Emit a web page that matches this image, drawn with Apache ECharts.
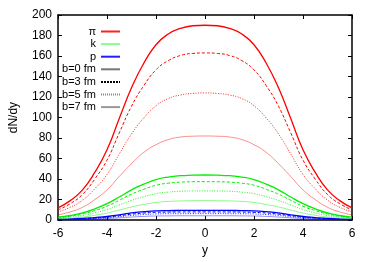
<!DOCTYPE html>
<html>
<head>
<meta charset="utf-8">
<script src="https://cdn.jsdelivr.net/npm/echarts@6/dist/echarts.min.js"></script>
<style>html,body{margin:0;padding:0;background:#fff}#c{width:374px;height:262px}</style>
</head>
<body>
<div id="c"></div>
<script>
const yVals = [-6,-5.5,-5,-4.5,-4,-3.5,-3,-2.5,-2,-1.5,-1,-0.5,0,0.5,1,1.5,2,2.5,3,3.5,4,4.5,5,5.5,6];
const xTicks = [-6,-4,-2,0,2,4,6];
const yTicks = [0,20,40,60,80,100,120,140,160,180,200];

const pi_b0 = [12,19,29.5,46.5,68.5,99,129,153,171,181.5,187,189.5,190,189.5,187,181.5,171,153,129,99,68.5,46.5,29.5,19,12];
const pi_b3 = [10,16,25,40,58.5,85,111,131,146.5,155.5,160.5,162.5,163,162.5,160.5,155.5,146.5,131,111,85,58.5,40,25,16,10];
const pi_b5 = [8,12.5,19.5,30.5,44.5,64.5,84,99.5,111.5,118.5,122,123.5,124,123.5,122,118.5,111.5,99.5,84,64.5,44.5,30.5,19.5,12.5,8];
const pi_b7 = [5,8,12.5,20,29.5,42.5,55,66,73.5,78.5,81,81.8,82,81.8,81,78.5,73.5,66,55,42.5,29.5,20,12.5,8,5];

const k_b0 = [3,4.5,7,11,16,22.5,29.5,35,39.5,42,43.3,43.8,44,43.8,43.3,42,39.5,35,29.5,22.5,16,11,7,4.5,3];
const k_b3 = [2.5,3.8,6,9.3,13.5,19.3,25.3,30,34,36,37,37.4,37.5,37.4,37,36,34,30,25.3,19.3,13.5,9.3,6,3.8,2.5];
const k_b5 = [2,3,4.5,7,10.3,14.7,19.2,22.8,25.8,27.3,28.1,28.4,28.5,28.4,28.1,27.3,25.8,22.8,19.2,14.7,10.3,7,4.5,3,2];
const k_b7 = [1.3,2,3,4.7,6.8,9.8,12.8,15.2,17.2,18.2,18.7,18.9,19,18.9,18.7,18.2,17.2,15.2,12.8,9.8,6.8,4.7,3,2,1.3];

const p_b0 = [0.6,1,1.6,2.5,3.5,5,7,8.2,9,9.3,9.4,9.5,9.5,9.5,9.4,9.3,9,8.2,7,5,3.5,2.5,1.6,1,0.6];
const p_b3 = [0.5,0.8,1.3,2,3,4.2,5.8,6.9,7.6,7.8,7.95,8,8,8,7.95,7.8,7.6,6.9,5.8,4.2,3,2,1.3,0.8,0.5];
const p_b5 = [0.4,0.6,1,1.6,2.3,3.3,4.6,5.4,6,6.2,6.25,6.3,6.3,6.3,6.25,6.2,6,5.4,4.6,3.3,2.3,1.6,1,0.6,0.4];
const p_b7 = [0.3,0.4,0.7,1.1,1.6,2.2,3,3.6,4,4.1,4.2,4.2,4.2,4.2,4.2,4.1,4,3.6,3,2.2,1.6,1.1,0.7,0.4,0.3];

const legendNames = ['π','k','p','b=0 fm','b=3 fm','b=5 fm','b=7 fm'];

const RED = '#ff0000', GREEN = '#00ee00', BLUE = '#0000ff';
const styles = {
  b0: {type:'solid', width:1.3, opacity:1},
  b3: {type:[3,2], width:1, opacity:1},
  b5: {type:[1,1.5], width:1, opacity:0.85},
  b7: {type:'solid', width:1, opacity:0.45}
};
function mk(name, vals, color, st) {
  return {
    name: name, type:'line', symbol:'none', smooth:0.5,
    data: vals.map((v,i)=>[yVals[i], v]),
    lineStyle: {color: color, width: st.width, type: st.type, opacity: st.opacity},
    itemStyle: {color: color},
    silent: true, animation: false
  };
}
const series = [
  mk('pi0', pi_b0, RED, styles.b0), mk('pi3', pi_b3, RED, styles.b3),
  mk('pi5', pi_b5, RED, styles.b5), mk('pi7', pi_b7, RED, styles.b7),
  mk('k0', k_b0, GREEN, styles.b0), mk('k3', k_b3, GREEN, styles.b3),
  mk('k5', k_b5, GREEN, styles.b5), mk('k7', k_b7, GREEN, styles.b7),
  mk('p0', p_b0, BLUE, styles.b0), mk('p3', p_b3, BLUE, styles.b3),
  mk('p5', p_b5, BLUE, styles.b5), mk('p7', p_b7, BLUE, styles.b7)
];
const legendStyles = [
  {color:'#ff2020', width:1, type:'solid'},
  {color:'#88ff88', width:2.5, type:'solid'},
  {color:'#2020ff', width:1, type:'solid'},
  {color:'#777777', width:2, type:'solid'},
  {color:'#000000', width:1, type:[2,1]},
  {color:'#888888', width:1, type:[1,1]},
  {color:'#999999', width:1, type:'solid'}
];
legendNames.forEach((n,i)=>{
  series.push({name:n, type:'line', symbol:'none', data:[],
    lineStyle: legendStyles[i], itemStyle:{color:legendStyles[i].color}});
});

const chart = echarts.init(document.getElementById('c'), null, {renderer:'canvas'});
const axisFont = {fontFamily:'Liberation Sans, Arial, sans-serif', fontSize:12, color:'#000'};
chart.setOption({
  animation:false,
  backgroundColor:'#fff',
  grid:{left:53, right:22, top:15, bottom:40},
  legend:{
    data: legendNames, orient:'vertical', align:'right',
    right:248, top:21, itemWidth:19, itemHeight:10, itemGap:1.6,
    itemStyle:{opacity:0},
    textStyle:{fontFamily:'Liberation Sans, Arial, sans-serif', fontSize:11, color:'#000'},
    selectedMode:false
  },
  xAxis:[
    {type:'value', min:-6, max:6, interval:2, position:'bottom',
     name:'y', nameLocation:'middle', nameGap:12, nameTextStyle:axisFont,
     axisLine:{onZero:false, lineStyle:{color:'#000', width:1.5}},
     axisTick:{inside:true, length:4, lineStyle:{color:'#000'}},
     axisLabel:Object.assign({margin:8}, axisFont), splitLine:{show:false}},
    {type:'value', min:-6, max:6, interval:2, position:'top',
     axisLine:{onZero:false, lineStyle:{color:'#000', width:1.5}},
     axisTick:{inside:true, length:4, lineStyle:{color:'#000'}},
     axisLabel:{show:false}, splitLine:{show:false}}
  ],
  yAxis:[
    {type:'value', min:0, max:200, interval:20, position:'left',
     name:'dN/dy', nameLocation:'middle', nameGap:38, nameTextStyle:axisFont,
     axisLine:{show:true, onZero:false, lineStyle:{color:'#000', width:1.5}},
     axisTick:{show:true, inside:true, length:4, lineStyle:{color:'#000'}},
     axisLabel:Object.assign({margin:6}, axisFont), splitLine:{show:false}},
    {type:'value', min:0, max:200, interval:20, position:'right',
     axisLine:{show:true, onZero:false, lineStyle:{color:'#000', width:1.5}},
     axisTick:{show:true, inside:true, length:4, lineStyle:{color:'#000'}},
     axisLabel:{show:false}, splitLine:{show:false}}
  ],
  series: series
});
</script>
</body>
</html>
